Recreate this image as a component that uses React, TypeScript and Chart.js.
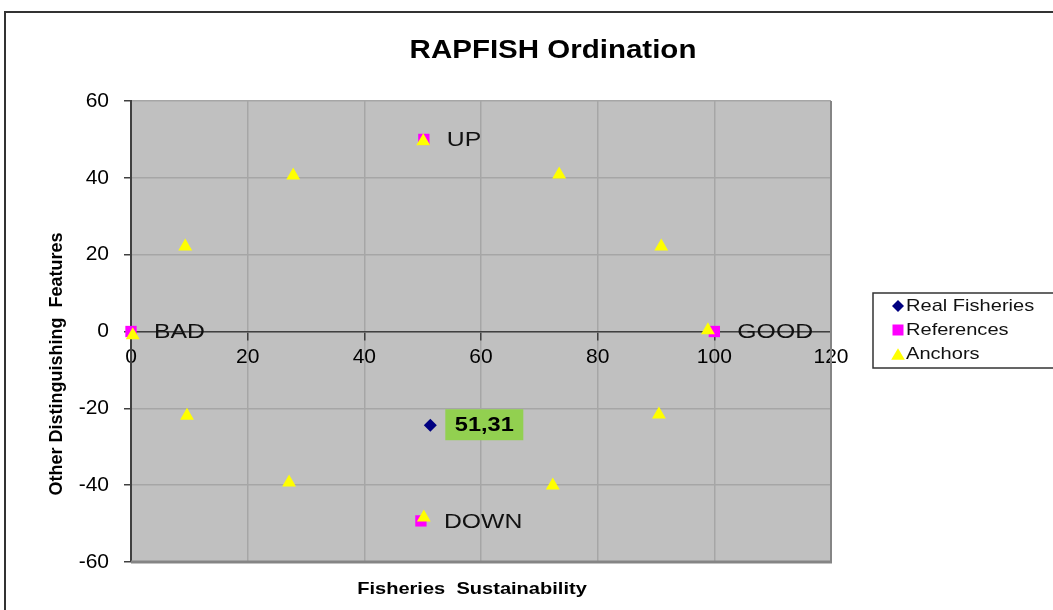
import React, { useEffect, useRef } from 'react';
import { Chart, registerables } from 'chart.js';

Chart.register(...registerables);

// ---------- data ----------
const CHART_TITLE = 'RAPFISH Ordination';
const X_TITLE = 'Fisheries  Sustainability';
const Y_TITLE = 'Other Distinguishing  Features';
const SERIES_NAMES = ['Real Fisheries', 'References', 'Anchors'];

const REAL_X = [51.31];
const REAL_Y = [-24.4];
const REAL_LABELS = ['51,31'];

const REF_LABELS = ['BAD', 'GOOD', 'UP', 'DOWN'];
const REF_X = [0, 100, 50.2, 49.7];
const REF_Y = [0, 0, 50, -49.3];

const ANCHOR_X = [0.3, 9.3, 27.8, 50.1, 73.4, 90.9, 98.9, 90.5, 72.3, 50.2, 27.1, 9.6];
const ANCHOR_Y = [-1.0, 22.1, 40.6, 49.5, 40.9, 22.1, 0.3, -21.6, -40.1, -48.4, -39.3, -21.9];

const X_MIN = 0;
const X_MAX = 120;
const X_STEP = 20;
const Y_MIN = -60;
const Y_MAX = 60;
const Y_STEP = 20;

// ---------- styling ----------
const FAMILY = '"Liberation Sans", Arial, sans-serif';
const SX = 1.18;
const COLORS = ['#000080', '#ff00ff', '#ffff00'];
const STYLES = ['rectRot', 'rect', 'triangle'];

function stretchedText(
  ctx: CanvasRenderingContext2D,
  text: string,
  x: number,
  y: number,
  font: string,
  align: CanvasTextAlign,
  color: string,
  sx = SX
) {
  ctx.save();
  ctx.font = font;
  ctx.fillStyle = color;
  ctx.textBaseline = 'middle';
  ctx.textAlign = align;
  ctx.translate(x, y);
  ctx.scale(sx, 1);
  ctx.fillText(text, 0, 0);
  ctx.restore();
}

function drawMarker(ctx: CanvasRenderingContext2D, style: string, x: number, y: number, size: number, color: string) {
  ctx.save();
  ctx.fillStyle = color;
  ctx.beginPath();
  if (style === 'rectRot') {
    ctx.moveTo(x, y - size);
    ctx.lineTo(x + size, y);
    ctx.lineTo(x, y + size);
    ctx.lineTo(x - size, y);
    ctx.closePath();
  } else if (style === 'rect') {
    ctx.rect(x - size, y - size, size * 2, size * 2);
  } else {
    const h = size * 1.8;
    const w = size * 2.1;
    ctx.moveTo(x, y - h / 2);
    ctx.lineTo(x + w / 2, y + h / 2);
    ctx.lineTo(x - w / 2, y + h / 2);
    ctx.closePath();
  }
  ctx.fill();
  ctx.restore();
}

const decorPlugin = {
  id: 'decor',
  beforeDraw(chart: any) {
    const { ctx, chartArea: a, width, height } = chart;
    ctx.save();
    ctx.fillStyle = '#ffffff';
    ctx.fillRect(0, 0, width, height);
    // outer frame
    ctx.strokeStyle = '#333333';
    ctx.lineWidth = 2;
    ctx.strokeRect(5, 12, width + 20, height + 20);
    // plot area
    ctx.fillStyle = '#c0c0c0';
    ctx.fillRect(a.left, a.top, a.right - a.left, a.bottom - a.top);
    ctx.restore();
  },
  beforeDatasetsDraw(chart: any) {
    const { ctx, chartArea: a } = chart;
    ctx.save();
    ctx.strokeStyle = '#858585';
    ctx.lineWidth = 2;
    ctx.beginPath();
    ctx.moveTo(a.right, a.top);
    ctx.lineTo(a.right, a.bottom);
    ctx.stroke();
    ctx.lineWidth = 3;
    ctx.beginPath();
    ctx.moveTo(a.left, a.bottom);
    ctx.lineTo(a.right + 1, a.bottom);
    ctx.stroke();
    ctx.restore();
  },
  afterDatasetsDraw(chart: any) {
    const { ctx } = chart;
    // reference labels
    const refMeta = chart.getDatasetMeta(1);
    refMeta.data.forEach((el: any, i: number) => {
      stretchedText(ctx, REF_LABELS[i], el.x + 23, el.y + 1, `21px ${FAMILY}`, 'left', '#111111');
    });
    // real fisheries label with green box
    const realMeta = chart.getDatasetMeta(0);
    realMeta.data.forEach((el: any, i: number) => {
      const bx = el.x + 15;
      const by = el.y - 16;
      const bw = 78;
      const bh = 31;
      ctx.save();
      ctx.fillStyle = '#92d050';
      ctx.fillRect(bx, by, bw, bh);
      ctx.restore();
      stretchedText(ctx, REAL_LABELS[i], bx + bw / 2, by + bh / 2 + 1, `bold 20px ${FAMILY}`, 'center', '#000000');
    });
  },
  afterDraw(chart: any) {
    const { ctx } = chart;
    // title
    stretchedText(ctx, CHART_TITLE, 553, 51, `bold 25px ${FAMILY}`, 'center', '#000000');
    // x axis title
    stretchedText(ctx, X_TITLE, 472, 589, `bold 17px ${FAMILY}`, 'center', '#000000');
    // y axis title
    ctx.save();
    ctx.translate(57, 364);
    ctx.rotate(-Math.PI / 2);
    ctx.font = `bold 18px ${FAMILY}`;
    ctx.fillStyle = '#000000';
    ctx.textAlign = 'center';
    ctx.textBaseline = 'middle';
    ctx.fillText(Y_TITLE, 0, 0);
    ctx.restore();
    // legend
    ctx.save();
    ctx.strokeStyle = '#333333';
    ctx.lineWidth = 1.5;
    ctx.strokeRect(873, 293, 220, 75);
    ctx.restore();
    const rows = [306, 330, 354];
    const sizes = [6, 5.5, 6.5];
    SERIES_NAMES.forEach((name, i) => {
      drawMarker(ctx, STYLES[i], 898, rows[i], sizes[i], COLORS[i]);
      stretchedText(ctx, name, 906, rows[i], `17px ${FAMILY}`, 'left', '#111111');
    });
  },
};

export default function App() {
  const ref = useRef<HTMLCanvasElement | null>(null);

  useEffect(() => {
    if (!ref.current) return;
    const chart = new Chart(ref.current, {
      type: 'scatter',
      data: {
        datasets: [
          {
            label: SERIES_NAMES[0],
            data: REAL_X.map((x, i) => ({ x, y: REAL_Y[i] })),
            pointStyle: 'rectRot',
            pointRadius: 6.5,
            pointHoverRadius: 6.5,
            backgroundColor: COLORS[0],
            borderColor: COLORS[0],
            borderWidth: 0,
            clip: false,
            order: 2,
          },
          {
            label: SERIES_NAMES[1],
            data: REF_X.map((x, i) => ({ x, y: REF_Y[i] })),
            pointStyle: 'rect',
            pointRadius: 8,
            pointHoverRadius: 8,
            backgroundColor: COLORS[1],
            borderColor: COLORS[1],
            borderWidth: 0,
            clip: false,
            order: 1,
          },
          {
            label: SERIES_NAMES[2],
            data: ANCHOR_X.map((x, i) => ({ x, y: ANCHOR_Y[i] })),
            pointStyle: 'triangle',
            pointRadius: 8,
            pointHoverRadius: 8,
            backgroundColor: COLORS[2],
            borderColor: COLORS[2],
            borderWidth: 0,
            clip: false,
            order: 0,
          },
        ],
      },
      options: {
        responsive: false,
        animation: false,
        devicePixelRatio: 1,
        layout: { padding: { left: 0, top: 101, right: 222, bottom: 48 } },
        plugins: {
          legend: { display: false },
          title: { display: false },
          tooltip: { enabled: false },
        },
        scales: {
          x: {
            type: 'linear',
            position: { y: 0 } as any,
            min: X_MIN,
            max: X_MAX,
            ticks: {
              stepSize: X_STEP,
              color: '#000000',
              font: { family: FAMILY, size: 21 },
              padding: 5,
              maxRotation: 0,
            },
            grid: {
              color: '#a6a6a6',
              lineWidth: 1.5,
              tickColor: '#404040',
              tickLength: 8,
              tickWidth: 1.5,
            },
            border: { display: true, color: '#404040', width: 1.5 },
          },
          y: {
            type: 'linear',
            position: 'left',
            min: Y_MIN,
            max: Y_MAX,
            afterFit: (s: any) => {
              s.width = 131;
            },
            ticks: {
              stepSize: Y_STEP,
              color: '#000000',
              font: { family: FAMILY, size: 21 },
              padding: 15,
            },
            grid: {
              color: '#a6a6a6',
              lineWidth: 1.5,
              tickColor: '#404040',
              tickLength: 7,
              tickWidth: 1.5,
            },
            border: { display: true, color: '#404040', width: 2 },
          },
        },
      },
      plugins: [decorPlugin],
    } as any);
    return () => chart.destroy();
  }, []);

  return (
    <div style={{ position: 'fixed', left: 0, top: 0, width: 1053, height: 610, background: '#fff' }}>
      <canvas ref={ref} width={1053} height={610} style={{ display: 'block', width: 1053, height: 610 }} />
    </div>
  );
}
